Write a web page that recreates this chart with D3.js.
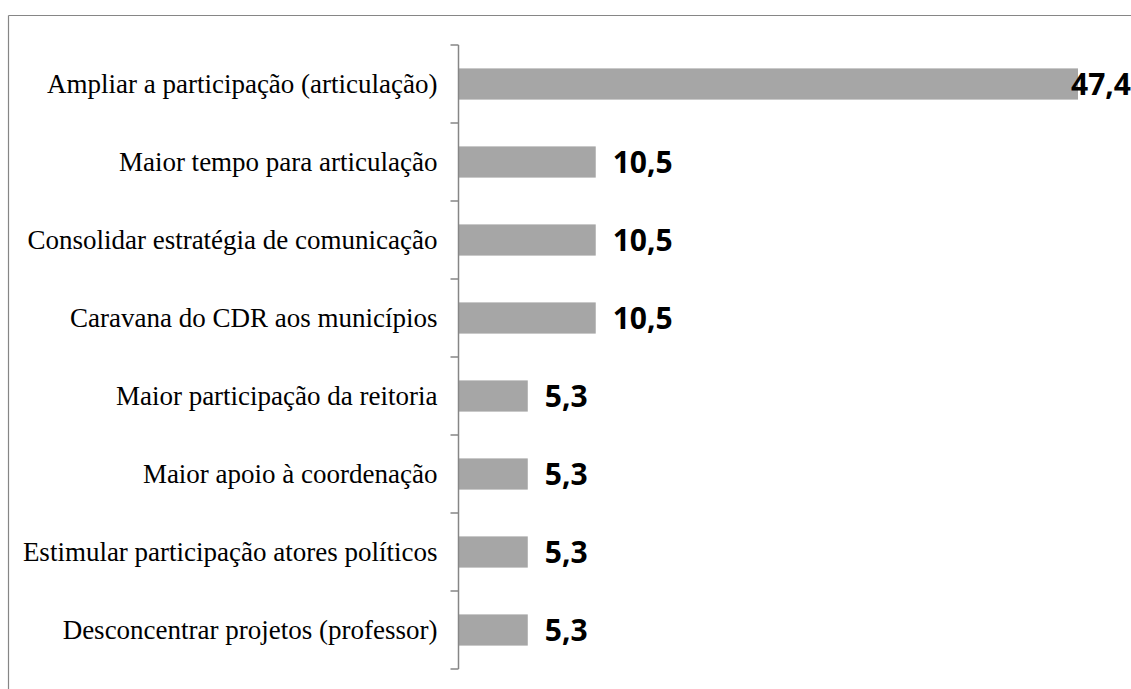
<!DOCTYPE html>
<html><head><meta charset="utf-8">
<script src="https://cdn.jsdelivr.net/npm/d3@7"></script>
<style>html,body{margin:0;padding:0;background:#fff;}</style>
</head><body>
<svg id="c" width="1131" height="689"></svg>
<script>
const categories = [
  "Ampliar a participação (articulação)",
  "Maior tempo para articulação",
  "Consolidar estratégia de comunicação",
  "Caravana do CDR aos municípios",
  "Maior participação da reitoria",
  "Maior apoio à coordenação",
  "Estimular participação atores políticos",
  "Desconcentrar projetos (professor)"
];
const values = [47.4, 10.5, 10.5, 10.5, 5.3, 5.3, 5.3, 5.3];
const valueLabels = ["47,4", "10,5", "10,5", "10,5", "5,3", "5,3", "5,3", "5,3"];

const W = 1131, H = 689;
const svg = d3.select("#c");

// frame (only top and left visible)
svg.append("line").attr("x1", 8.5).attr("x2", W).attr("y1", 15.5).attr("y2", 15.5)
  .attr("stroke", "#868686").attr("stroke-width", 1.2);
svg.append("line").attr("x1", 8.5).attr("x2", 8.5).attr("y1", 15.5).attr("y2", H)
  .attr("stroke", "#868686").attr("stroke-width", 1.2);

const x0 = 458.5;
const x = d3.scaleLinear().domain([0, 47.4]).range([x0, 1078]);
const y = d3.scaleBand().domain(categories).range([45, 669]).paddingInner(0.6).paddingOuter(0.3);

const g = svg.append("g");
g.selectAll("rect.bar").data(values).join("rect")
  .attr("class", "bar")
  .attr("x", x(0))
  .attr("y", (d, i) => y(categories[i]))
  .attr("width", d => x(d) - x(0))
  .attr("height", y.bandwidth())
  .attr("fill", "#a6a6a6");

// axis
const yAxis = d3.axisLeft(y).tickSize(0).tickPadding(21);
const ax = svg.append("g").attr("transform", `translate(${x0},0)`).call(yAxis);
ax.select(".domain").remove();
ax.selectAll("text").attr("font-family", "'Liberation Serif', 'Times New Roman', serif")
  .attr("font-size", 27).attr("fill", "#000");
svg.append("line").attr("x1", x0).attr("x2", x0).attr("y1", 45).attr("y2", 669)
  .attr("stroke", "#868686").attr("stroke-width", 1.5);
// tick marks at band boundaries
const boundaries = d3.range(categories.length + 1).map(i => 45 + i * (624 / categories.length));
svg.selectAll("line.tk").data(boundaries).join("line").attr("class", "tk")
  .attr("x1", x0 - 8).attr("x2", x0).attr("y1", d => d).attr("y2", d => d)
  .attr("stroke", "#868686").attr("stroke-width", 1.5);

// value labels
const lbl = svg.selectAll("text.val").data(values).join("text").attr("class", "val")
  .attr("font-family", "'Open Sans', sans-serif").attr("font-weight", 700).attr("font-size", 30)
  .attr("fill", "#000")
  .attr("y", (d, i) => y(categories[i]) + y.bandwidth() / 2)
  .attr("dy", "0.36em")
  .text((d, i) => valueLabels[i]);
lbl.each(function(d) {
  const t = d3.select(this);
  const w = this.getComputedTextLength();
  let px = x(d) + 17;
  if (px + w > W) px = W - w;
  t.attr("x", px);
});
</script>
</body></html>
